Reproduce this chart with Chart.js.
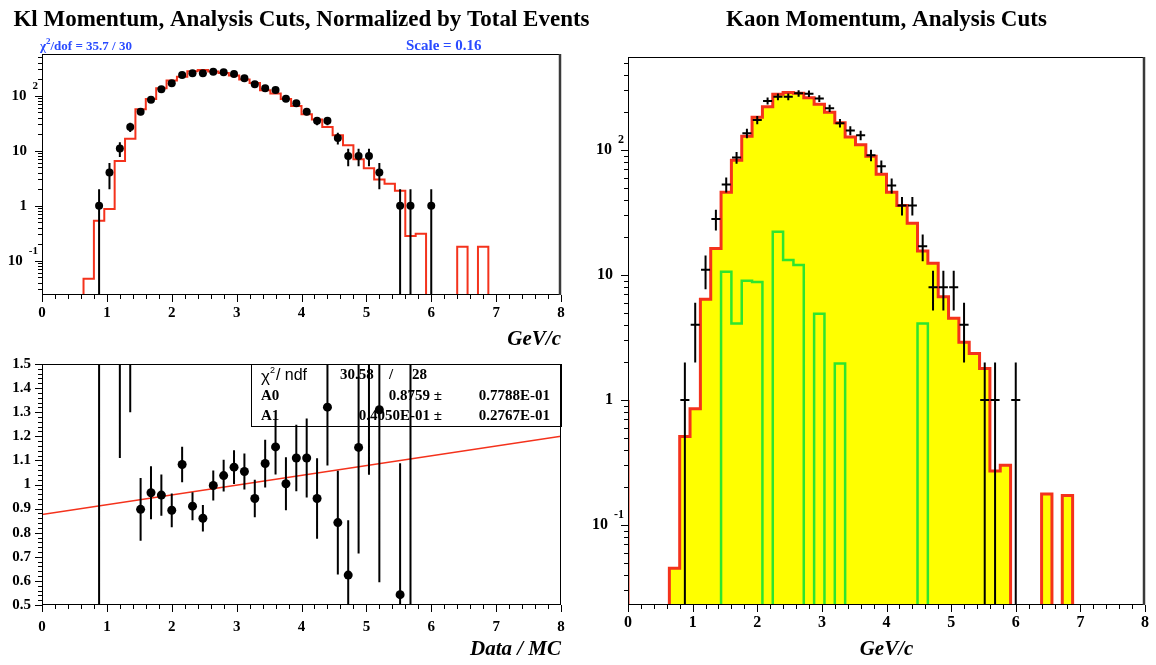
<!DOCTYPE html>
<html>
<head>
<meta charset="utf-8">
<script src="https://cdn.jsdelivr.net/npm/chart.js@4.4.0/dist/chart.umd.min.js"></script>
<style>
  body { margin: 0; background: #fff; }
  #wrap { position: relative; width: 1156px; height: 665px; overflow: hidden; }
  canvas { position: absolute; }
</style>
</head>
<body>
<div id="wrap">
  <canvas id="klChart" width="600" height="345" style="left:0;top:0"></canvas>
  <canvas id="ratioChart" width="578" height="320" style="left:0;top:345px"></canvas>
  <canvas id="kaonChart" width="578" height="665" style="left:578px;top:0"></canvas>
</div>
<script>
// 50 bins of 0.16 GeV/c from 0 to 8
const nBins = 50;
const binWidth = 0.16;
const xTickLabels = ['0', '1', '2', '3', '4', '5', '6', '7', '8'];
// [base, exponent, value]
const logTickLabels = [['10', '-1', 0.1], ['1', '', 1], ['10', '', 10], ['10', '2', 100]];
const ratioTickLabels = ['0.5', '0.6', '0.7', '0.8', '0.9', '1', '1.1', '1.2', '1.3', '1.4', '1.5'];

// Kl momentum (top left)
const klData = [0, 0, 0, 0, 0, 1, 4, 11, 27, 51, 84, 131, 168, 238, 255, 255, 273, 266, 248, 207,
  161, 136, 127, 88, 73, 51, 35, 35, 17, 8, 8, 8, 4, 0, 1, 1, 0, 1, 0, 0, 0, 0, 0, 0, 0, 0, 0, 0, 0, 0];
const klErr = [0, 0, 0, 0, 0, 1, 2, 3.3, 5.2, 7.1, 9.2, 11.4, 13, 15.4, 16, 16, 16.5, 16.3, 15.7, 14.4,
  12.7, 11.7, 11.3, 9.4, 8.5, 7.1, 5.9, 5.9, 4.1, 2.8, 2.8, 2.8, 2, 0, 1, 1, 0, 1, 0, 0, 0, 0, 0, 0, 0, 0, 0, 0, 0, 0];
const klMC = [0, 0, 0, 0, 0.047, 0.53, 0.87, 6.5, 16.5, 57, 87, 137, 188, 222, 279, 292, 276, 258, 232, 197,
  170, 126, 110, 87, 65, 46, 37, 27, 19, 12.5, 7, 4.8, 3.0, 2.5, 1.87, 0.28, 0.31, 0, 0, 0, 0.18, 0, 0.18, 0, 0, 0, 0, 0, 0, 0];
const klMCUnderOver = [1, 1];

// Data / MC (bottom left)
const ratio = [null, null, null, null, null, 1.89, 4.6, 1.65, 1.65, 0.897, 0.966, 0.956, 0.893, 1.083, 0.91,
  0.86, 0.996, 1.037, 1.072, 1.054, 0.942, 1.087, 1.156, 1.003, 1.11, 1.11, 0.942, 1.321, 0.842, 0.624,
  1.154, 1.67, 1.31, null, 0.543, 3.6, null, null, null, null, null, null, null, null, null, null, null, null, null, null];
const ratioErr = [0, 0, 0, 0, 0, 1.89, 2.3, 0.54, 0.35, 0.13, 0.11, 0.086, 0.07, 0.074, 0.058,
  0.055, 0.062, 0.066, 0.07, 0.075, 0.078, 0.099, 0.114, 0.11, 0.138, 0.164, 0.167, 0.242, 0.215, 0.228,
  0.44, 0.63, 0.716, 0, 0.545, 3.6, 0, 0, 0, 0, 0, 0, 0, 0, 0, 0, 0, 0, 0, 0];
const fitA0 = 0.8759;
const fitA1 = 0.0405;

// Kaon momentum (right)
const kaonData = [0, 0, 0, 0, 0, 1, 4, 11, 28, 53, 87, 136, 174, 247, 267, 267, 284, 282, 258, 216,
  164, 143, 131, 91, 74, 52, 36, 36, 17, 8, 8, 8, 4, 0, 1, 1, 0, 1, 0, 0, 0, 0, 0, 0, 0, 0, 0, 0, 0, 0];
const kaonErr = [0, 0, 0, 0, 0, 1, 2, 3.3, 5.3, 7.3, 9.3, 11.7, 13.2, 15.7, 16.3, 16.3, 16.9, 16.8, 16.1, 14.7,
  12.8, 12, 11.4, 9.5, 8.6, 7.2, 6, 6, 4.1, 2.8, 2.8, 2.8, 2, 0, 1, 1, 0, 1, 0, 0, 0, 0, 0, 0, 0, 0, 0, 0, 0, 0];
const kaonMC = [0, 0, 0, 0, 0.045, 0.51, 0.85, 6.4, 16.3, 46, 83, 129, 183, 222, 279, 289, 284, 262, 232, 201,
  165, 127, 110, 89, 64, 46, 36, 26, 15.6, 12.4, 6.7, 4.5, 2.9, 2.36, 1.79, 0.27, 0.3, 0, 0, 0, 0.177, 0, 0.172, 0, 0, 0, 0, 0, 0, 0];
const kaonMCUnderOver = [1, 1];
const kaonBkg = [0, 0, 0, 0, 0, 0, 0, 0, 0, 10.6, 4.1, 9.0, 8.8, 0, 22.2, 13.2, 12.0, 0, 4.9, 0,
  1.96, 0, 0, 0, 0, 0, 0, 0, 4.1, 0, 0, 0, 0, 0, 0, 0, 0, 0, 0, 0, 0, 0, 0, 0, 0, 0, 0, 0, 0, 0];

const klYMin = 0.0238, klYMax = 573;
const kaonYMin = 0.0229, kaonYMax = 555;

const RED = '#f4321c';
const GREEN = '#2ee62e';
const YELLOW = '#ffff00';
const BLUE = '#2a4bff';
const SERIF = '"Liberation Serif", "Times New Roman", serif';
const SANS = '"Liberation Sans", Arial, sans-serif';

function center(i) { return (i + 0.5) * binWidth; }

// histogram outline, zero bins pushed below the frame
function stepPoints(vals, floor, underOver) {
  const pts = [];
  if (underOver) pts.push({ x: 0, y: underOver[0] });
  vals.forEach((v, i) => pts.push({ x: i * binWidth, y: v > 0 ? v : floor }));
  const last = vals[vals.length - 1];
  pts.push({ x: vals.length * binWidth, y: last > 0 ? last : floor });
  if (underOver) pts.push({ x: vals.length * binWidth, y: underOver[1] });
  return pts;
}

function vBars(vals, errs, floor) {
  const pts = [];
  vals.forEach((v, i) => {
    if (!(v > 0)) return;
    const x = center(i);
    pts.push({ x, y: Math.max(v - errs[i], floor) }, { x, y: v + errs[i] }, { x, y: null });
  });
  return pts;
}

function hBars(vals, half) {
  const pts = [];
  vals.forEach((v, i) => {
    if (!(v > 0)) return;
    const c = center(i);
    pts.push({ x: c - half, y: v }, { x: c + half, y: v }, { x: c, y: null });
  });
  return pts;
}

function dots(vals) {
  const pts = [];
  vals.forEach((v, i) => { if (v > 0) pts.push({ x: center(i), y: v }); });
  return pts;
}

function hline(ctx, x1, y1, x2, y2) {
  ctx.beginPath(); ctx.moveTo(x1, y1); ctx.lineTo(x2, y2); ctx.stroke();
}

// ROOT looking frame, ticks and labels
function rootAxes(opt) {
  return {
    id: 'rootAxes',
    afterDatasetsDraw(chart) {
      const ctx = chart.ctx, a = chart.chartArea;
      const xs = chart.scales.x, ys = chart.scales.y;
      ctx.save();
      ctx.strokeStyle = '#000';
      ctx.lineWidth = 1;
      ctx.strokeRect(a.left + 0.5, a.top + 0.5, a.right - a.left - 1, a.bottom - a.top - 1);
      if (opt.thickRight) {
        ctx.strokeStyle = '#3a3a3a';
        ctx.lineWidth = 2.5;
        hline(ctx, a.right - 1, a.top, a.right - 1, a.bottom);
        ctx.strokeStyle = '#000';
        ctx.lineWidth = 1;
      }
      // x ticks
      for (let i = 0; i <= 40; i++) {
        const px = Math.round(xs.getPixelForValue(i * 0.2)) + 0.5;
        hline(ctx, px, a.bottom, px, a.bottom + (i % 5 === 0 ? 7 : 4));
      }
      ctx.fillStyle = '#000';
      ctx.font = 'bold ' + opt.labelSize + 'px ' + SERIF;
      ctx.textAlign = 'center';
      ctx.textBaseline = 'middle';
      xTickLabels.forEach((t, i) => ctx.fillText(t, xs.getPixelForValue(i), a.bottom + opt.xLabelGap));
      // x title
      ctx.font = 'bold italic 21px ' + SERIF;
      if (opt.xTitleAlign === 'right') {
        ctx.textAlign = 'right';
        ctx.fillText(opt.xTitle, a.right, a.bottom + opt.xTitleGap);
      } else {
        ctx.textAlign = 'center';
        ctx.fillText(opt.xTitle, (a.left + a.right) / 2, a.bottom + opt.xTitleGap);
      }
      // y ticks and labels
      if (opt.log) {
        for (let d = -2; d <= 2; d++) {
          for (let m = 1; m <= 9; m++) {
            const v = m * Math.pow(10, d);
            if (v < ys.min || v > ys.max) continue;
            const py = Math.round(ys.getPixelForValue(v)) + 0.5;
            hline(ctx, a.left, py, a.left - (m === 1 ? 7 : 4), py);
          }
        }
        logTickLabels.forEach(([base, exp, v]) => {
          const py = ys.getPixelForValue(v);
          ctx.textAlign = 'right';
          let right = a.left - 15;
          if (exp) {
            ctx.font = 'bold ' + (opt.labelSize - 4) + 'px ' + SERIF;
            ctx.fillText(exp, a.left - 4, py - 10);
            right = a.left - 10 - ctx.measureText(exp).width;
          }
          ctx.font = 'bold ' + opt.labelSize + 'px ' + SERIF;
          ctx.fillText(base, right, py);
        });
      } else {
        for (let i = 0; i <= 50; i++) {
          const py = Math.round(ys.getPixelForValue(0.5 + i * 0.02)) + 0.5;
          hline(ctx, a.left, py, a.left - (i % 5 === 0 ? 7 : 4), py);
        }
        ctx.font = 'bold ' + opt.labelSize + 'px ' + SERIF;
        ctx.textAlign = 'right';
        ratioTickLabels.forEach((t, i) => ctx.fillText(t, a.left - 11, ys.getPixelForValue(0.5 + i * 0.1)));
      }
      // pad title
      if (opt.title) {
        ctx.font = 'bold 23px ' + SERIF;
        ctx.textAlign = 'center';
        ctx.fillText(opt.title, (a.left + a.right) / 2 + (opt.titleShift || 0), opt.titleY);
      }
      ctx.restore();
    }
  };
}

const klHeader = {
  id: 'klHeader',
  afterDraw(chart) {
    const ctx = chart.ctx;
    ctx.save();
    ctx.fillStyle = BLUE;
    ctx.textBaseline = 'alphabetic';
    ctx.textAlign = 'left';
    ctx.font = 'bold 13px ' + SERIF;
    let x = 40;
    ctx.fillText('\u03c7', x, 50);
    x += ctx.measureText('\u03c7').width;
    ctx.font = 'bold 9px ' + SERIF;
    ctx.fillText('2', x, 44);
    x += ctx.measureText('2').width;
    ctx.font = 'bold 13px ' + SERIF;
    ctx.fillText('/dof = 35.7 / 30', x, 50);
    ctx.font = 'bold 15px ' + SERIF;
    ctx.fillText('Scale = 0.16', 406, 50);
    ctx.restore();
  }
};

const statsBox = {
  id: 'statsBox',
  beforeDatasetsDraw(chart) {
    const ctx = chart.ctx, a = chart.chartArea;
    const left = a.right - 310, top = a.top;
    ctx.save();
    ctx.strokeStyle = '#000';
    ctx.lineWidth = 1;
    ctx.strokeRect(left + 0.5, top + 0.5, 310, 62);
    ctx.fillStyle = '#000';
    ctx.textBaseline = 'middle';
    ctx.textAlign = 'left';
    ctx.font = '17px ' + SANS;
    let x = left + 10;
    ctx.fillText('\u03c7', x, top + 13);
    x += ctx.measureText('\u03c7').width;
    ctx.font = '9px ' + SANS;
    ctx.fillText('2', x, top + 7);
    x += ctx.measureText('2').width + 1;
    ctx.font = '16px ' + SANS;
    ctx.fillText('/ ndf', x, top + 12);
    ctx.font = 'bold 15px ' + SERIF;
    ctx.fillText('30.58', left + 89, top + 11);
    ctx.fillText('/', left + 138, top + 11);
    ctx.fillText('28', left + 161, top + 11);
    ctx.fillText('A0', left + 10, top + 32);
    ctx.fillText('A1', left + 10, top + 52);
    ctx.textAlign = 'right';
    ctx.fillText('0.8759 \u00b1', left + 191, top + 32);
    ctx.fillText('0.7788E-01', left + 299, top + 32);
    ctx.fillText('0.4050E-01 \u00b1', left + 191, top + 52);
    ctx.fillText('0.2767E-01', left + 299, top + 52);
    ctx.restore();
  }
};

function baseOptions(padding, yScale) {
  return {
    responsive: false,
    animation: false,
    layout: { padding },
    plugins: { legend: { display: false }, tooltip: { enabled: false } },
    scales: {
      x: { type: 'linear', min: 0, max: 8, display: false },
      y: Object.assign({ display: false }, yScale)
    },
    elements: { point: { radius: 0 }, line: { tension: 0 } }
  };
}

// top left: Kl momentum
new Chart(document.getElementById('klChart'), {
  type: 'line',
  data: {
    datasets: [
      { data: dots(klData), type: 'scatter', pointRadius: 4, pointBackgroundColor: '#000', pointBorderWidth: 0, order: 0 },
      { data: vBars(klData, klErr, klYMin * 0.8), borderColor: '#000', borderWidth: 2, pointRadius: 0, spanGaps: false, order: 1 },
      { data: stepPoints(klMC, klYMin * 0.8, klMCUnderOver), borderColor: RED, borderWidth: 2, stepped: true, pointRadius: 0, fill: false, order: 2 }
    ]
  },
  options: baseOptions({ left: 42, top: 54, right: 39, bottom: 50 }, { type: 'logarithmic', min: klYMin, max: klYMax, bounds: 'data' }),
  plugins: [rootAxes({
    log: true, labelSize: 15, xLabelGap: 18, xTitle: 'GeV/c', xTitleAlign: 'right', xTitleGap: 45,
    thickRight: true, title: 'Kl Momentum, Analysis Cuts, Normalized by Total Events', titleY: 20
  }), klHeader]
});

// bottom left: Data / MC with linear fit
new Chart(document.getElementById('ratioChart'), {
  type: 'line',
  data: {
    datasets: [
      { data: dots(ratio), type: 'scatter', pointRadius: 4.5, pointBackgroundColor: '#000', pointBorderWidth: 0, order: 0 },
      { data: vBars(ratio, ratioErr, -10), borderColor: '#000', borderWidth: 2, pointRadius: 0, spanGaps: false, order: 1 },
      { data: [{ x: 0, y: fitA0 }, { x: 8, y: fitA0 + fitA1 * 8 }], borderColor: RED, borderWidth: 1.5, pointRadius: 0, order: 2 }
    ]
  },
  options: baseOptions({ left: 42, top: 19, right: 17, bottom: 60 }, { type: 'linear', min: 0.5, max: 1.5 }),
  plugins: [rootAxes({
    log: false, labelSize: 15, xLabelGap: 22, xTitle: 'Data / MC', xTitleAlign: 'right', xTitleGap: 45
  }), statsBox]
});

// right: Kaon momentum
new Chart(document.getElementById('kaonChart'), {
  type: 'line',
  data: {
    datasets: [
      { data: vBars(kaonData, kaonErr, kaonYMin * 0.8), borderColor: '#000', borderWidth: 2, pointRadius: 0, spanGaps: false, order: 0 },
      { data: hBars(kaonData, 0.07), borderColor: '#000', borderWidth: 2, pointRadius: 0, spanGaps: false, order: 1 },
      { data: stepPoints(kaonBkg, kaonYMin * 0.8, null), borderColor: GREEN, borderWidth: 2.5, stepped: true, pointRadius: 0, fill: false, order: 2 },
      { data: stepPoints(kaonMC, kaonYMin * 0.8, kaonMCUnderOver), borderColor: RED, backgroundColor: YELLOW, borderWidth: 3, stepped: true, pointRadius: 0, fill: 'start', order: 3 }
    ]
  },
  options: baseOptions({ left: 50, top: 57, right: 11, bottom: 60 }, { type: 'logarithmic', min: kaonYMin, max: kaonYMax, bounds: 'data' }),
  plugins: [rootAxes({
    log: true, labelSize: 16, xLabelGap: 18, xTitle: 'GeV/c', xTitleAlign: 'center', xTitleGap: 45,
    thickRight: true, title: 'Kaon Momentum, Analysis Cuts', titleY: 20
  })]
});
</script>
</body>
</html>
